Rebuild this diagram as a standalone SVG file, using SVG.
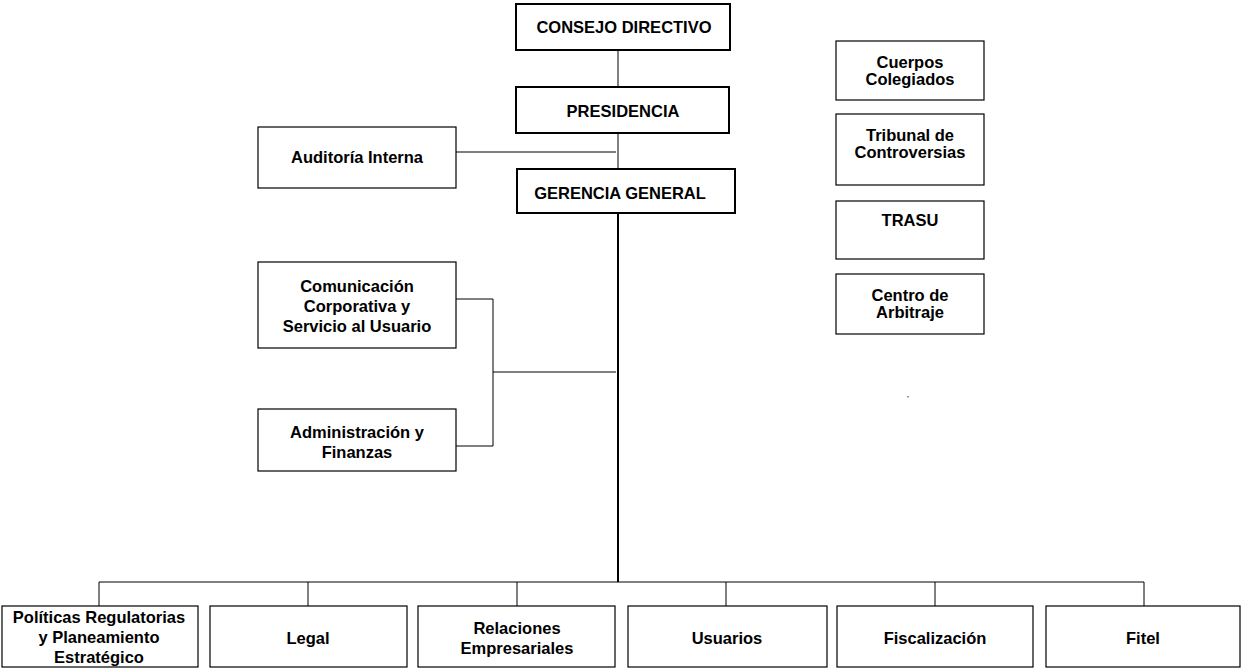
<svg xmlns="http://www.w3.org/2000/svg" width="1242" height="669" viewBox="0 0 1242 669">
<style>
.box{fill:#fff;stroke:#000;stroke-width:1.2}
.bx2{fill:#fff;stroke:#000;stroke-width:2}
.t{font-family:"Liberation Sans",Arial,sans-serif;font-weight:bold;font-size:16.5px;fill:#000;text-anchor:middle;dominant-baseline:central}
.c{fill:none;stroke:#000;stroke-width:1}
.ck{fill:none;stroke:#000;stroke-width:2}
</style>
<rect width="1242" height="669" fill="#fff"/>
<g id="connectors">
<path class="c" d="M618 50V87M618 133V169M456 152H616"/>
<path class="ck" d="M618 213V582"/>
<path class="c" d="M456 299H493V446H456M493 372H616"/>
<path class="c" d="M99 606V582H1144V606M308 582V606M517 582V606M726 582V606M935 582V606"/>
</g>
<g id="consejo"><rect class="bx2" x="516" y="4" width="214" height="46"/><text class="t" x="624" y="27">CONSEJO DIRECTIVO</text></g>
<g id="presidencia"><rect class="bx2" x="516" y="87" width="213" height="46"/><text class="t" x="623" y="111">PRESIDENCIA</text></g>
<g id="gerencia"><rect class="bx2" x="517" y="169" width="218" height="44"/><text class="t" x="620" y="193">GERENCIA GENERAL</text></g>
<g id="auditoria"><rect class="box" x="258" y="127" width="198" height="61"/><text class="t" x="357" y="157">Auditoría Interna</text></g>
<g id="comunicacion"><rect class="box" x="258" y="262" width="198" height="86"/><text class="t" x="357" y="286">Comunicación</text><text class="t" x="357" y="306">Corporativa y</text><text class="t" x="357" y="326">Servicio al Usuario</text></g>
<g id="administracion"><rect class="box" x="258" y="409" width="198" height="62"/><text class="t" x="357" y="432">Administración y</text><text class="t" x="357" y="452">Finanzas</text></g>
<g id="cuerpos"><rect class="box" x="836" y="41" width="148" height="59"/><text class="t" x="910" y="62">Cuerpos</text><text class="t" x="910" y="79">Colegiados</text></g>
<g id="tribunal"><rect class="box" x="836" y="114" width="148" height="71"/><text class="t" x="910" y="135">Tribunal de</text><text class="t" x="910" y="152">Controversias</text></g>
<g id="trasu"><rect class="box" x="836" y="201" width="148" height="58"/><text class="t" x="910" y="220">TRASU</text></g>
<g id="centro"><rect class="box" x="836" y="274" width="148" height="60"/><text class="t" x="910" y="295">Centro de</text><text class="t" x="910" y="312">Arbitraje</text></g>
<g id="politicas"><rect class="box" x="2" y="606" width="196" height="61"/><text class="t" x="99" y="617">Políticas Regulatorias</text><text class="t" x="99" y="637">y Planeamiento</text><text class="t" x="99" y="657">Estratégico</text></g>
<g id="legal"><rect class="box" x="210" y="606" width="197" height="61"/><text class="t" x="308" y="638">Legal</text></g>
<g id="relaciones"><rect class="box" x="418" y="606" width="197" height="61"/><text class="t" x="517" y="628">Relaciones</text><text class="t" x="517" y="648">Empresariales</text></g>
<g id="usuarios"><rect class="box" x="628" y="606" width="199" height="61"/><text class="t" x="727" y="638">Usuarios</text></g>
<g id="fiscalizacion"><rect class="box" x="837" y="606" width="196" height="61"/><text class="t" x="935" y="638">Fiscalización</text></g>
<g id="fitel"><rect class="box" x="1046" y="606" width="194" height="61"/><text class="t" x="1143" y="638">Fitel</text></g>
<rect x="907" y="396" width="2" height="1.5" fill="#999"/>
</svg>
